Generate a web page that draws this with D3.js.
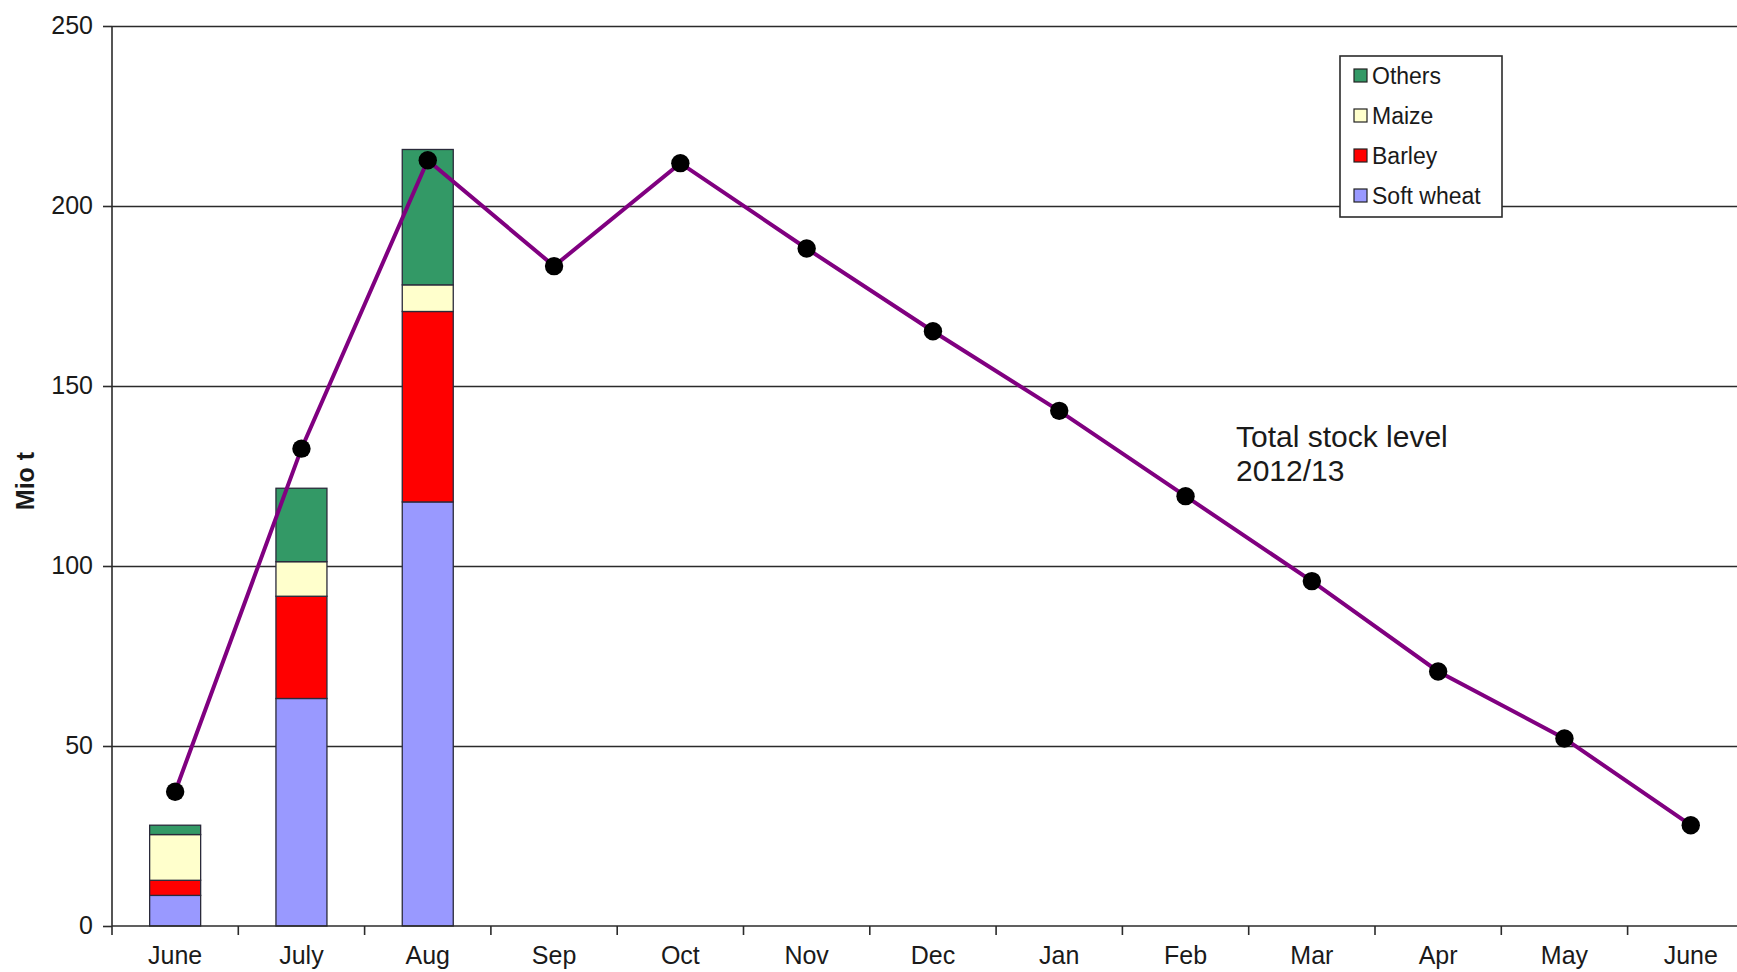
<!DOCTYPE html>
<html>
<head>
<meta charset="utf-8">
<script src="https://cdn.jsdelivr.net/npm/d3@7"></script>
<style>
  body { margin: 0; background: #fff; }
  text { font-family: "Liberation Sans", Arial, sans-serif; fill: #1a1a1a; }
  .domain { display: none; }
</style>
</head>
<body>
<div id="vis"></div>
<script>
// month labels (two "June"s, so positions are indexed)
const months = ["June", "July", "Aug", "Sep", "Oct", "Nov", "Dec", "Jan", "Feb", "Mar", "Apr", "May", "June"];
const yTicks = [0, 50, 100, 150, 200, 250];

// stacked harvest bars, first three months only (Mio t)
const softWheat = [8.5, 63.2, 117.8];
const barley = [4.2, 28.4, 52.9];
const maize = [12.7, 9.6, 7.4];
const others = [2.6, 20.4, 37.6];

// total stock level line
const totalStock = [37.3, 132.6, 212.7, 183.3, 211.9, 188.2, 165.2, 143.1, 119.4, 95.8, 70.7, 52.1, 28.0];

const seriesNames = ["Soft wheat", "Barley", "Maize", "Others"];
const seriesColors = ["#9999ff", "#ff0000", "#ffffcc", "#339966"];

const svgWidth = 1737,
  svgHeight = 972,
  plotLeft = 112,
  plotTop = 26,
  plotBottom = 926,
  band = 126.3;

const svg = d3
  .select("div#vis")
  .append("svg")
  .attr("width", svgWidth)
  .attr("height", svgHeight);

const x = d3
  .scaleBand()
  .domain(d3.range(months.length))
  .range([plotLeft, plotLeft + band * months.length]);
const y = d3.scaleLinear().domain([0, 250]).range([plotBottom, plotTop]);
const cx = (i) => x(i) + x.bandwidth() / 2;

// grid lines
svg
  .append("g")
  .attr("transform", `translate(${plotLeft},0)`)
  .call(d3.axisLeft(y).tickValues(yTicks.slice(1)).tickSize(-(band * months.length)).tickFormat(""))
  .call((g) => g.selectAll("line").attr("stroke", "#2b2b2b").attr("stroke-width", 1.6));

// y axis
const yAxis = svg
  .append("g")
  .attr("transform", `translate(${plotLeft},0)`)
  .call(d3.axisLeft(y).tickValues(yTicks).tickSize(9).tickPadding(10));
yAxis.selectAll("line").attr("stroke", "#2b2b2b").attr("stroke-width", 1.6);
yAxis.selectAll("text").style("font-size", "25px").attr("dy", "0.3em").attr("fill", "#1a1a1a");
svg
  .append("line")
  .attr("x1", plotLeft)
  .attr("x2", plotLeft)
  .attr("y1", y(250))
  .attr("y2", y(0))
  .attr("stroke", "#2b2b2b")
  .attr("stroke-width", 1.6);

// bars
const rows = softWheat.map((d, i) => ({
  i: i,
  "Soft wheat": d,
  Barley: barley[i],
  Maize: maize[i],
  Others: others[i],
}));
const stacked = d3.stack().keys(seriesNames)(rows);

svg
  .append("g")
  .selectAll("g")
  .data(stacked)
  .enter()
  .append("g")
  .attr("fill", (d, k) => seriesColors[k])
  .selectAll("rect")
  .data((d) => d)
  .enter()
  .append("rect")
  .attr("x", (d) => cx(d.data.i) - 25.5)
  .attr("width", 51)
  .attr("y", (d) => y(d[1]))
  .attr("height", (d) => y(d[0]) - y(d[1]))
  .attr("stroke", "#2a2a3a")
  .attr("stroke-width", 1.3);

// x axis line, ticks at band edges
svg
  .append("line")
  .attr("x1", plotLeft)
  .attr("x2", plotLeft + band * months.length)
  .attr("y1", y(0))
  .attr("y2", y(0))
  .attr("stroke", "#2b2b2b")
  .attr("stroke-width", 1.6);
svg
  .append("g")
  .selectAll("line")
  .data(d3.range(months.length + 1))
  .enter()
  .append("line")
  .attr("x1", (i) => plotLeft + i * x.step())
  .attr("x2", (i) => plotLeft + i * x.step())
  .attr("y1", y(0))
  .attr("y2", y(0) + 9)
  .attr("stroke", "#2b2b2b")
  .attr("stroke-width", 1.6);

const xAxis = svg
  .append("g")
  .attr("transform", `translate(0,${y(0)})`)
  .call(d3.axisBottom(x).tickSize(0).tickPadding(20).tickFormat((i) => months[i]));
xAxis.selectAll("text").style("font-size", "25px").attr("fill", "#1a1a1a");

// total stock line
const line = d3
  .line()
  .x((d, i) => cx(i))
  .y((d) => y(d));

svg
  .append("path")
  .datum(totalStock)
  .attr("fill", "none")
  .attr("stroke", "#800080")
  .attr("stroke-width", 4)
  .attr("d", line);

svg
  .append("g")
  .selectAll("circle")
  .data(totalStock)
  .enter()
  .append("circle")
  .attr("cx", (d, i) => cx(i))
  .attr("cy", (d) => y(d))
  .attr("r", 9.2)
  .attr("fill", "#000");

// y title
svg
  .append("text")
  .attr("transform", "translate(34,481) rotate(-90)")
  .attr("text-anchor", "middle")
  .style("font-size", "25px")
  .style("font-weight", "bold")
  .text("Mio t");

// annotation
const note = svg.append("text").attr("x", 1236).attr("y", 447).style("font-size", "30px");
note.append("tspan").attr("x", 1236).text("Total stock level");
note.append("tspan").attr("x", 1236).attr("dy", 34).text("2012/13");

// legend
const legend = svg.append("g").attr("transform", "translate(1340,56)");
legend
  .append("rect")
  .attr("width", 162)
  .attr("height", 161)
  .attr("fill", "#fff")
  .attr("stroke", "#2b2b2b")
  .attr("stroke-width", 1.6);
const legendOrder = [3, 2, 1, 0];
const item = legend
  .selectAll(".item")
  .data(legendOrder)
  .enter()
  .append("g")
  .attr("transform", (k, j) => `translate(14,${13 + j * 40})`);
item
  .append("rect")
  .attr("width", 13)
  .attr("height", 13)
  .attr("fill", (k) => seriesColors[k])
  .attr("stroke", "#222")
  .attr("stroke-width", 1.2);
item
  .append("text")
  .attr("x", 18)
  .attr("y", 7)
  .attr("dy", "0.36em")
  .style("font-size", "23px")
  .text((k) => seriesNames[k]);
</script>
</body>
</html>
